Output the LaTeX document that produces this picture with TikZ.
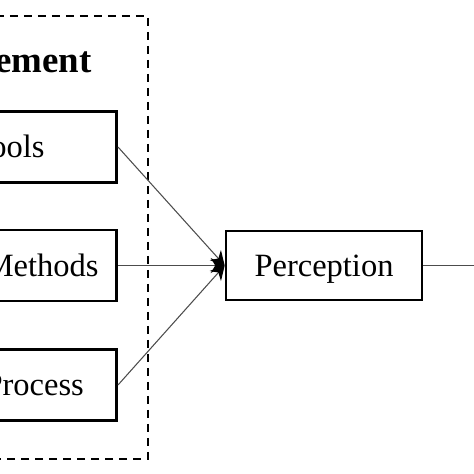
\documentclass[tikz,border=0pt]{standalone}
\usepackage{fontspec}
\setmainfont{Liberation Serif}
\usetikzlibrary{arrows.meta}

\tikzset{
  box/.style={draw, line width=1.5pt, rectangle, minimum height=1.42cm, inner sep=0pt, text height=0.5cm, text depth=0.08cm, font=\fontsize{18.5}{22}\selectfont},
  feed/.style={draw=black!70, line width=0.6pt, -{Stealth[length=0.28cm, width=0.3cm, black]}},
  group/.style={line width=1.6pt, dash pattern=on 0.17cm off 0.11cm}
}

\begin{document}
\begin{tikzpicture}[x=0.02cm, y=-0.02cm]
  \useasboundingbox (0,0) rectangle (474,474);
  \clip (0,0) rectangle (474,474);

  % management group
  \draw[group] (-200,16) -- (148,16) -- (148,459) -- (-200,459);
  \draw (92,72) node[anchor=base east, inner sep=0pt, font=\fontsize{21}{25}\bfseries] (title) {Management};

      \draw (118,147) node[box, anchor=east, minimum width=4.32cm] (tools) {Tools};
      \draw (118,265.5) node[box, anchor=east, minimum width=3cm] (methods) {Methods};
      \draw (118,385) node[box, anchor=east, minimum width=3.3cm] (process) {Process};
  \draw (324,265.5) node[box, minimum width=3.92cm, minimum height=1.38cm] (perception) {Perception};
  \coordinate (out) at (490,265.5);

      \path (tools.east) edge[feed] (perception.west);
      \path (methods.east) edge[feed] (perception.west);
      \path (process.east) edge[feed] (perception.west);
  \path (perception.east) edge[draw=black!70, line width=0.6pt] (out);
\end{tikzpicture}
\end{document}
